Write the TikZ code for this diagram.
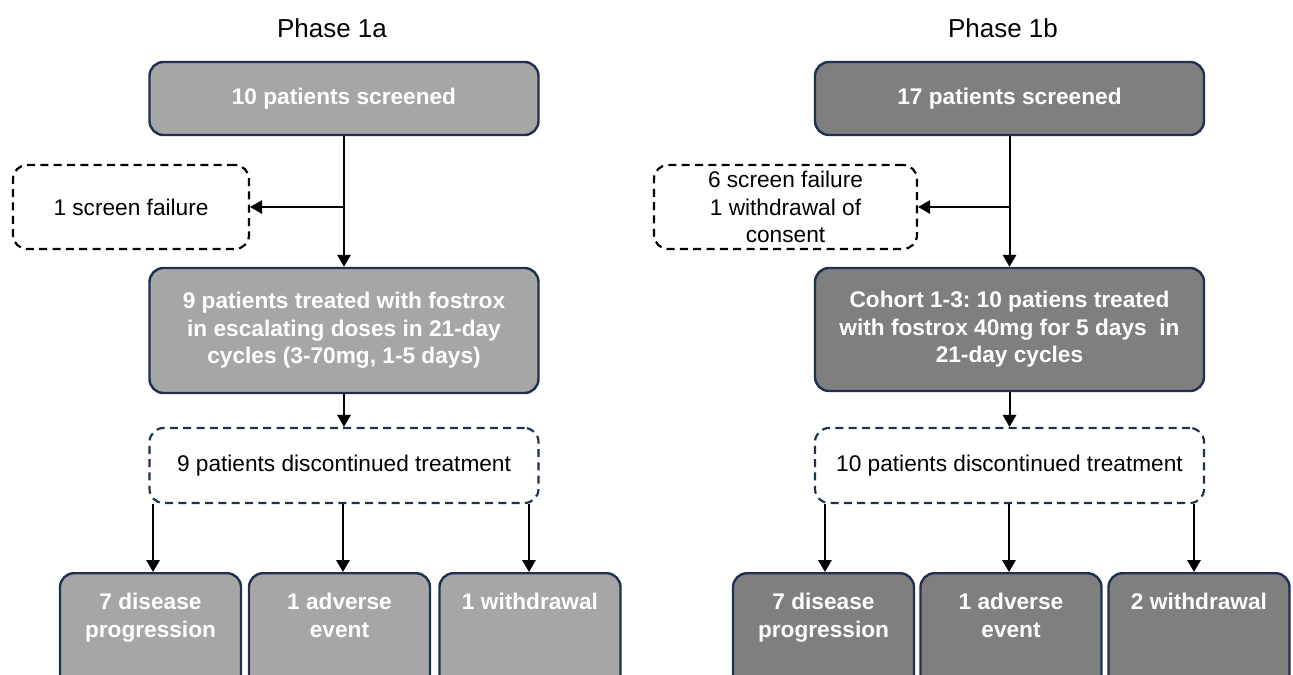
\documentclass[tikz,border=0pt]{standalone}
\usepackage{fontspec}
\setmainfont{Liberation Sans}
\usetikzlibrary{arrows.meta}
\definecolor{navy}{HTML}{1F3050}
\definecolor{lightg}{HTML}{A6A6A6}
\definecolor{darkg}{HTML}{7F7F7F}
\frenchspacing
\begin{document}
\begin{tikzpicture}[x=0.75pt,y=-0.75pt,
  solidbox/.style={draw=navy, line width=1.8pt, rounded corners=10.5pt, text=white,
    font=\bfseries\fontsize{17}{20.6}\selectfont, align=center, inner sep=0pt},
  lbox/.style={solidbox, fill=lightg},
  dbox/.style={solidbox, fill=darkg},
  dashbox/.style={line width=1.6pt, rounded corners=10.5pt, fill=white,
    dash pattern=on 6pt off 4pt, text=black,
    font=\fontsize{17}{20.6}\selectfont, align=center, inner sep=0pt},
  btext/.style={text=white, font=\bfseries\fontsize{17}{20.6}\selectfont, align=center, inner sep=0pt, anchor=north},
  title/.style={font=\fontsize{19.5}{23}\selectfont, inner sep=0pt},
  arr/.style={-{Triangle[length=9pt,width=10pt]}, line width=1.5pt, black}
]
\useasboundingbox (0,0) rectangle (1293,675);
\clip (0,0) rectangle (1293,675);
\fill[white] (0,0) rectangle (1293,675);

% ---------- Phase 1a ----------
\node[title] (t1) at (332,28) {Phase 1a};
\node[lbox, minimum width=291.75pt, minimum height=54.75pt] (top1) at (344,98.5) {10 patients screened};
\node[dashbox, draw=black, minimum width=177pt, minimum height=63pt] (fail1) at (131,207) {1 screen failure};
\node[lbox, minimum width=291.75pt, minimum height=93.75pt] (box1) at (344,330.5)
  {9 patients treated with fostrox\\in escalating doses in 21-day\\cycles (3-70mg, 1-5 days)};
\node[dashbox, draw=navy, minimum width=291.75pt, minimum height=56.25pt] (disc1) at (344,465.5)
  {9 patients discontinued treatment};
\node[lbox, minimum width=135.75pt, minimum height=97.5pt, anchor=north] (A1) at (150.5,572) {};
\node[lbox, minimum width=135.75pt, minimum height=97.5pt, anchor=north] (B1) at (339.5,572) {};
\node[lbox, minimum width=135.75pt, minimum height=97.5pt, anchor=north] (C1) at (530,572) {};
\node[btext] (tA1) at ([yshift=-15.75pt]A1.north) {7 disease\\progression};
\node[btext] (tB1) at ([yshift=-15.75pt]B1.north) {1 adverse\\event};
\node[btext] (tC1) at ([yshift=-15.75pt]C1.north) {1 withdrawal};

\draw[arr] (top1.south) -- (box1.north);
\draw[arr] (top1.south |- fail1.east) -- (fail1.east);
\draw[arr] (box1.south) -- (disc1.north);
\draw[arr] ([xshift=1.9pt]A1.north |- disc1.south) -- ([xshift=1.9pt]A1.north);
\draw[arr] ([xshift=2.6pt]B1.north |- disc1.south) -- ([xshift=2.6pt]B1.north);
\draw[arr] ([xshift=-0.75pt]C1.north |- disc1.south) -- ([xshift=-0.75pt]C1.north);

% ---------- Phase 1b ----------
\node[title] (t2) at (1003,28) {Phase 1b};
\node[dbox, minimum width=291.75pt, minimum height=54.75pt] (top2) at (1009.5,98.5) {17 patients screened};
\node[dashbox, draw=black, minimum width=197.25pt, minimum height=63pt] (fail2) at (785.5,207)
  {6 screen failure\\1 withdrawal of\\consent};
\node[dbox, minimum width=291.75pt, minimum height=92.25pt] (box2) at (1009.5,329.5)
  {Cohort 1-3: 10 patiens treated\\with fostrox 40mg for 5 days~ in\\21-day cycles};
\node[dashbox, draw=navy, minimum width=291.75pt, minimum height=56.25pt] (disc2) at (1009.5,465.5)
  {10 patients discontinued treatment};
\node[dbox, minimum width=135.75pt, minimum height=97.5pt, anchor=north] (A2) at (823.5,572) {};
\node[dbox, minimum width=135.75pt, minimum height=97.5pt, anchor=north] (B2) at (1011,572) {};
\node[dbox, minimum width=135.75pt, minimum height=97.5pt, anchor=north] (C2) at (1199,572) {};
\node[btext] (tA2) at ([yshift=-15.75pt]A2.north) {7 disease\\progression};
\node[btext] (tB2) at ([yshift=-15.75pt]B2.north) {1 adverse\\event};
\node[btext] (tC2) at ([yshift=-15.75pt]C2.north) {2 withdrawal};

\draw[arr] (top2.south) -- (box2.north);
\draw[arr] (top2.south |- fail2.east) -- (fail2.east);
\draw[arr] (box2.south) -- (disc2.north);
\draw[arr] ([xshift=1.1pt]A2.north |- disc2.south) -- ([xshift=1.1pt]A2.north);
\draw[arr] ([xshift=-1.5pt]B2.north |- disc2.south) -- ([xshift=-1.5pt]B2.north);
\draw[arr] ([xshift=-3.75pt]C2.north |- disc2.south) -- ([xshift=-3.75pt]C2.north);
\end{tikzpicture}
\end{document}
